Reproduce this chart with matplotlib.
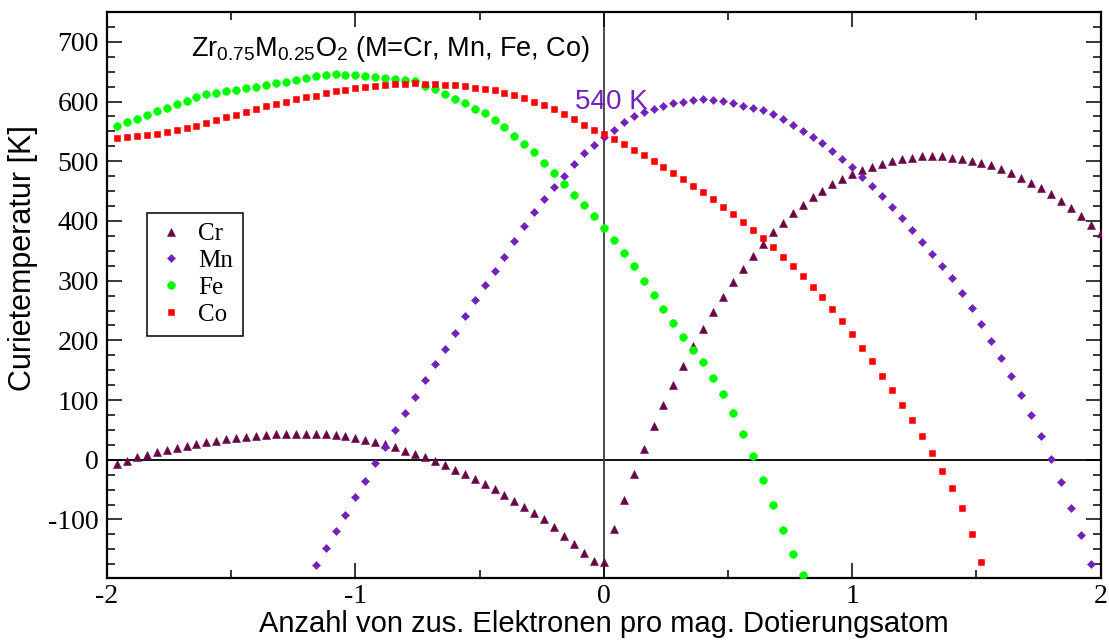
import numpy as np
import matplotlib
matplotlib.use("Agg")
import matplotlib.pyplot as plt
from matplotlib.ticker import MultipleLocator

# Spacing of the computed band-filling points (extra electrons per dopant)
STEP = 0.04

# Curie temperature [K] for Zr0.75M0.25O2; each series starts at *_start
cr_start = -1.96
cr_tc = [-7, -2, 4, 8, 13, 17, 20, 23, 26, 29,
         32, 34, 36, 38.5, 40, 42, 43, 43.5, 43.5, 43.5,
         43, 43, 42, 39.5, 36, 33, 29.5, 26, 22, 15.5,
         10, 4.5, -2, -8, -17, -24, -32, -40, -49, -59,
         -69, -79, -89, -100, -113, -127, -141, -156, -170, -171,
         -116, -67, -23, 18, 56, 92, 125.5, 157, 191, 219,
         247, 273, 297, 320, 341, 362, 381, 397, 413, 427,
         440, 451, 462, 471, 479, 485, 491, 496, 500, 503.5,
         506, 508, 508, 508, 505, 504, 501, 497, 493, 487,
         480, 472, 464, 455, 445, 433, 421, 408, 394, 380]

mn_start = -1.16
mn_tc = [-176, -148, -120, -92, -63, -35, -6, 22, 50, 78,
         105, 133, 161, 186, 213, 240, 267, 293, 317, 340,
         367, 392, 415, 436, 457, 476, 495, 513, 527, 540,
         552, 565, 576, 582, 587, 592, 597, 600, 602, 604,
         603, 601, 597, 593, 589, 585, 579, 571, 560, 550,
         541, 530, 517, 504, 490, 473, 458, 441, 423, 405,
         385, 365, 344, 324, 304, 280, 255, 228, 199, 171,
         140, 108, 75, 40, 2, -37, -80, -126, -174]

fe_start = -1.96
fe_tc = [559, 566, 571, 577, 584, 590, 596, 601, 607, 612,
         615, 618, 620, 622, 624, 628, 631, 633, 636, 639,
         642, 645, 646, 645, 644, 642, 641, 640, 638, 636,
         634, 626, 621, 613, 605, 597, 588, 580, 569, 557,
         543, 529, 515, 497, 480, 462, 444, 426, 408, 389,
         368, 347, 324, 300, 276, 252, 229, 206, 184, 163,
         137, 110, 78, 43, 7, -34, -75, -117, -157, -193]

co_start = -1.96
co_tc = [539, 541, 543, 544, 546, 549, 552, 556, 559, 564,
         569, 574, 578, 583, 587, 592, 596, 600, 604, 607,
         610, 614, 617, 620, 622, 624, 626, 628, 630, 630,
         631, 630, 630, 628, 627, 626, 623, 621, 619, 615,
         611, 606, 600, 594, 587, 579, 571, 561, 553, 546,
         537, 529, 519, 510, 500, 490, 480, 470, 458, 448,
         436, 424, 412, 399, 385, 371, 356, 340, 324, 308,
         290, 273, 253, 232, 211, 188, 165, 141, 117, 92,
         67, 40, 11, -18, -47, -81, -125, -172]

series = [
    ("Cr", cr_start, cr_tc, "^", "#670748", 6.0),
    ("Mn", mn_start, mn_tc, "D", "#7221bc", 3.8),
    ("Fe", fe_start, fe_tc, "o", "#00ff00", 5.6),
    ("Co", co_start, co_tc, "s", "#ff0000", 4.9),
]

SERIF = ["Liberation Serif", "DejaVu Serif"]
SANS = ["Liberation Sans", "DejaVu Sans"]
plt.rcParams["font.family"] = SANS
plt.rcParams["mathtext.fontset"] = "custom"
plt.rcParams["mathtext.rm"] = "Liberation Sans"

fig = plt.figure(figsize=(11.09, 6.41), dpi=100)
ax = fig.add_axes([0.0965, 0.0983, 0.8960, 0.8830])

ax.axhline(0, color="black", lw=1.3, zorder=1)
ax.axvline(0, color="#3c3c3c", lw=1.3, zorder=1)

for name, start, vals, marker, color, ms in series:
    x = start + STEP * np.arange(len(vals))
    ax.plot(x, vals, linestyle="none", marker=marker, color=color,
            markersize=ms, markeredgewidth=0.4, markeredgecolor=color,
            label=name, zorder=3)

ax.set_xlim(-2, 2)
ax.set_ylim(-198, 750)

ax.set_xticks([-2, -1, 0, 1, 2])
ax.set_xticklabels(["-2", "-1", "0", "1", "2"], family=SERIF, fontsize=20)
ax.set_yticks([-100, 0, 100, 200, 300, 400, 500, 600, 700])
ax.set_yticklabels(["-100", "0", "100", "200", "300", "400", "500", "600", "700"],
                   family=SERIF, fontsize=20)
ax.xaxis.set_minor_locator(MultipleLocator(0.5))
ax.yaxis.set_minor_locator(MultipleLocator(25))
ax.tick_params(which="both", direction="in", top=True, right=True,
               width=1.1, colors="black")
ax.tick_params(which="major", length=11)
ax.tick_params(which="minor", length=5.5)
ax.tick_params(axis="x", which="major", pad=4)
ax.tick_params(axis="y", which="major", pad=6)

for sp in ax.spines.values():
    sp.set_linewidth(1.6)

ax.set_xlabel("Anzahl von zus. Elektronen pro mag. Dotierungsatom",
              fontsize=21, family=SANS, labelpad=1)
ax.set_ylabel("Curietemperatur [K]", fontsize=22, family=SANS)
ax.yaxis.set_label_coords(-0.0695, 0.565)

ax.text(-1.663, 676,
        r"Zr$_{\mathregular{0.75}}$M$_{\mathregular{0.25}}$O$_{\mathregular{2}}$ (M=Cr, Mn, Fe, Co)",
        fontsize=19.5, family=SANS, ha="left", va="baseline", zorder=4)

# Mn Curie temperature at zero extra electrons
mn_x = mn_start + STEP * np.arange(len(mn_tc))
i0 = int(np.argmin(np.abs(mn_x)))
ax.text(-0.115, 588, f"{mn_tc[i0]:.0f} K", color="#7221bc", fontsize=20,
        family=SANS, ha="left", va="baseline", zorder=4)

leg = ax.legend(loc="upper left", bbox_to_anchor=(0.0403, 0.645),
                borderaxespad=0, prop={"family": SERIF, "size": 18},
                frameon=True, fancybox=False, edgecolor="black",
                framealpha=1, borderpad=0.4, labelspacing=0.17,
                handlelength=1.12, handletextpad=0.52, numpoints=1,
                markerscale=1.0)
leg.get_frame().set_linewidth(1.1)

fig.savefig("out.png", dpi=100)
